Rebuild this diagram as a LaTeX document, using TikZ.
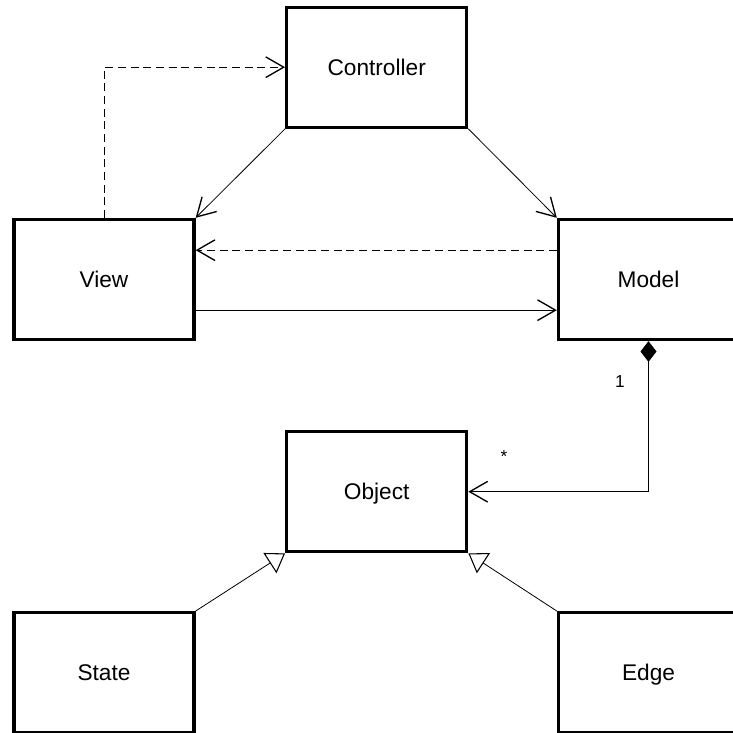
\documentclass[tikz,border=0pt]{standalone}
\usepackage{fontspec}
\setmainfont{Liberation Sans}
\usetikzlibrary{arrows.meta}

\begin{document}
\begin{tikzpicture}[
    x=0.75pt,y=-0.75pt,
    cls/.style={rectangle,draw=black,fill=white,line width=2.5pt,
      minimum width=135pt,minimum height=90pt,inner sep=0pt,text depth=0pt,
      font=\fontsize{17}{20}\selectfont},
    mult/.style={inner sep=0pt,font=\fontsize{13}{15}\selectfont},
    assoc/.style={-{Straight Barb[length=13.5pt,width=15.5pt,line width=1pt]},line width=0.6pt},
    dep/.style={assoc,dash pattern=on 6pt off 3.5pt},
    gen/.style={-{Triangle[open,length=13.5pt,width=18pt,line width=0.8pt,fill=white]},line width=0.6pt},
    comp/.style={{Diamond[length=15.5pt,width=12pt]}-{Straight Barb[length=13.5pt,width=15.5pt,line width=1pt]},line width=0.6pt}
  ]
    \useasboundingbox (0,0) rectangle (733,733);

    \node[cls] (controller) at (376.7,67.2) {Controller};
    \node[cls] (view) at (104,279.5) {View};
    \node[cls] (model) at (648.5,279.5) {Model};
    \node[cls] (object) at (376.7,491.7) {Object};
    \node[cls] (state) at (104,672.7) {State};
    \node[cls] (edge) at (648.5,672.7) {Edge};

    \node[mult] (one) at (620,382) {1};
    \node[mult] (many) at (504,457) {*};

    \draw[dep] (view.north) |- (controller.west);
    \draw[assoc] (controller.south west) -- (view.north east);
    \draw[assoc] (controller.south east) -- (model.north west);
    \draw[dep] ([yshift=22pt]model.west) -- ([yshift=22pt]view.east);
    \draw[assoc] ([yshift=-23pt]view.east) -- ([yshift=-23pt]model.west);
    \draw[comp] (model.south) |- (object.east);
    \draw[gen] (state.north east) -- (object.south west);
    \draw[gen] (edge.north west) -- (object.south east);
  \end{tikzpicture}
\end{document}
